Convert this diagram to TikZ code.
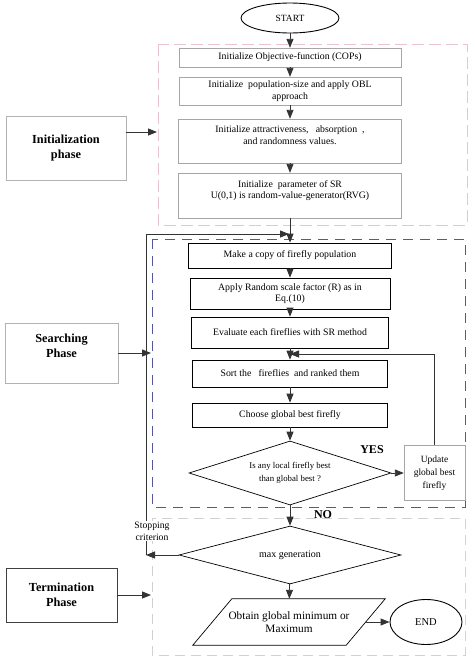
\documentclass[tikz,border=0pt]{standalone}
\usepackage{fontspec}
\setmainfont{Liberation Serif}
\usetikzlibrary{shapes.geometric,arrows.meta,calc}

\definecolor{pinkdash}{HTML}{EBC3CE}
\definecolor{navydash}{HTML}{56569A}
\definecolor{graydash}{HTML}{D2D2D2}

\begin{document}
\begin{tikzpicture}[x=1pt,y=-1pt,
		arr/.style={draw=black!80, line width=0.9pt, -{Triangle[length=9pt,width=7pt]}},
		txt/.style={font=\fontsize{9.8}{11.5}\selectfont},
		initbox/.style={txt, draw=black!35, rectangle, align=center, inner sep=1pt},
		stepbox/.style={txt, draw=black, line width=0.7pt, rectangle, align=center, inner sep=1pt},
		phasebox/.style={rectangle, align=center, font=\fontsize{12.3}{15}\selectfont\bfseries},
		term/.style={ellipse, draw=black, line width=0.9pt, inner sep=0pt},
		decision/.style={diamond, draw=black, line width=0.7pt, inner sep=0pt, align=center},
	]
		\useasboundingbox (0,0) rectangle (474,664);

		\draw[pinkdash, line width=0.7pt, dash pattern=on 12pt off 5pt] (158,44) rectangle (467,225);
		\draw[navydash, line width=1pt, dash pattern=on 10pt off 7pt] (152,239) rectangle (465,507);
		\draw[graydash, line width=0.8pt, dash pattern=on 10pt off 6pt] (152,518) rectangle (465,655);

		\node[term, minimum width=98, minimum height=30, font=\fontsize{9.5}{11}\selectfont] (start) at (290,18) {START};
		\node[initbox, minimum width=222, minimum height=19] (cops) at (290,57.5) {Initialize Objective-function (COPs)};
		\node[initbox, minimum width=222, minimum height=28] (obl) at (290,91) {Initialize\ \ population-size and apply OBL\\approach};
		\node[initbox, minimum width=223, minimum height=44] (attr) at (290,141) {Initialize attractiveness,\ \ \ absorption\ \ ,\\and randomness values.\\ \mbox{}};
		\node[initbox, minimum width=223, minimum height=45] (param) at (290,195.5) {Initialize\ \ parameter of SR\\U(0,1) is random-value-generator(RVG)\\ \mbox{}};

		\node[stepbox, minimum width=203, minimum height=25] (copy) at (290,255.5) {Make a copy of firefly population};
		\node[stepbox, minimum width=200, minimum height=31] (scale) at (290,293.5) {Apply Random scale factor (R) as in\\Eq.(10)};
		\node[stepbox, minimum width=197, minimum height=31] (eval) at (290,332.5) {Evaluate each fireflies with SR method};
		\node[stepbox, minimum width=195, minimum height=27] (sort) at (290,373.5) {Sort the\ \ \ fireflies\ \ and ranked them};
		\node[stepbox, minimum width=195, minimum height=24] (choose) at (290,415) {Choose global best firefly};
		\node[decision, aspect=3.15, minimum width=202, minimum height=64, font=\fontsize{8.8}{13}\selectfont] (better) at (290,473) {Is any local firefly best\\than global best ?};
		\node[initbox, minimum width=61, minimum height=55, font=\fontsize{9.5}{13}\selectfont] (update) at (434.5,473) {Update\\global best\\firefly};
		\coordinate (back) at (290,354);

		\node[decision, aspect=3.8, minimum width=222, minimum height=58, font=\fontsize{10}{12}\selectfont] (maxgen) at (290,555) {max generation};
		\node[minimum width=153, minimum height=46, inner sep=0pt, align=center, font=\fontsize{11.3}{13}\selectfont] (obtain) at (289,622) {Obtain global minimum or\\Maximum};
		\draw[black, line width=0.7pt] ($(obtain.north west)+(19.5,0)$) -- ($(obtain.north east)+(19.5,0)$) -- ($(obtain.south east)+(-19.5,0)$) -- ($(obtain.south west)+(-19.5,0)$) -- cycle;
		\node[term, minimum width=72, minimum height=45, font=\fontsize{10.5}{12}\selectfont] (finish) at (426,622) {END};

		\node[phasebox, draw=black!30, minimum width=120, minimum height=64] (initph) at (66,148) {Initialization\\phase};
		\node[phasebox, draw=black!30, minimum width=113, minimum height=60] (searchph) at (61.5,353) {Searching\\Phase\\ \mbox{}};
		\node[phasebox, draw=black!75, line width=0.8pt, minimum width=111, minimum height=54] (termph) at (61.5,595) {Termination\\Phase};

		\coordinate (pinkin) at (157,132);
		\coordinate (navyin) at (151,353);
		\coordinate (termin) at (151,595);
		\coordinate (entry) at (289,234);
		\coordinate (corner) at (146,234);
		\coordinate (turn) at (146,555);

		\draw[arr] (start) -- (cops);
		\draw[arr] (cops) -- (obl);
		\draw[arr] (obl) -- (attr);
		\draw[arr] (attr) -- (param);
		\draw[arr] (param) -- (copy);
		\draw[arr] (copy) -- (scale);
		\draw[arr] (scale) -- (eval);
		\draw[arr] (eval) -- (sort);
		\draw[arr] (sort) -- (choose);
		\draw[arr] (choose) -- (better);
		\draw[arr] (better) -- (update);
		\draw[arr] (update.north) |- (back);
		\draw[arr] (better) -- (maxgen);
		\draw[arr] (maxgen) -- (obtain);
		\draw[arr] (obtain.east) -- (finish.west);
		\draw[arr] (maxgen.west) -- (turn);
		\draw[arr] (turn) -- (corner) -- (entry);
		\node[fill=white, inner sep=1pt, align=center, font=\fontsize{9.7}{12}\selectfont] (stop) at (152,531) {Stopping\\criterion};

		\draw[arr] (initph.east |- pinkin) -- (pinkin);
		\draw[arr] (searchph) -- (navyin);
		\draw[arr] (termph) -- (termin);

		\node[font=\fontsize{12}{14}\selectfont\bfseries] (yes) at (372,450) {YES};
		\node[font=\fontsize{12}{14}\selectfont\bfseries] (no) at (323,515) {NO};
	\end{tikzpicture}
\end{document}
